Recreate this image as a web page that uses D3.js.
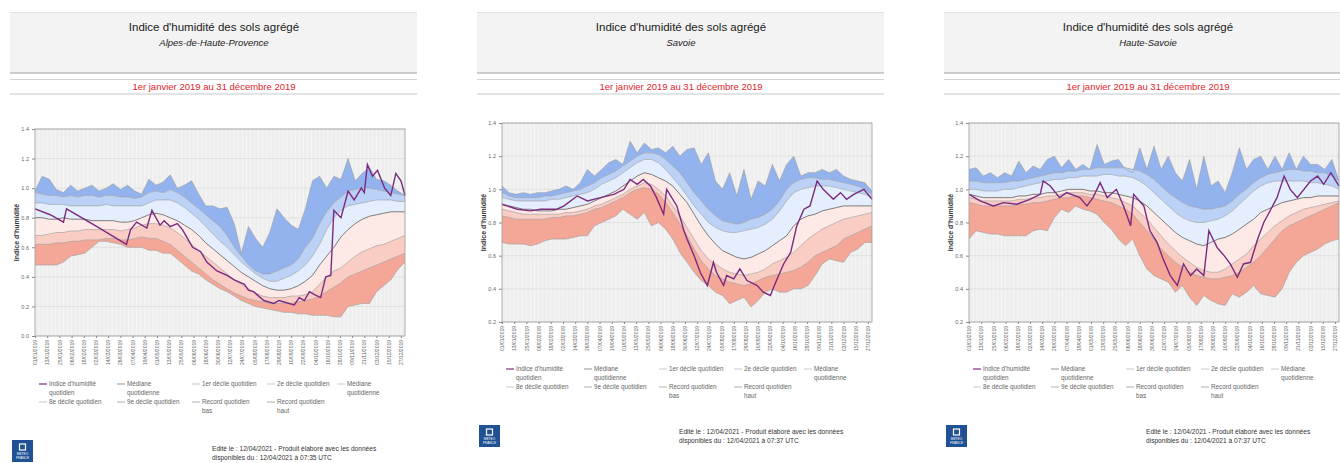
<!DOCTYPE html>
<html><head><meta charset="utf-8">
<script src="https://cdn.jsdelivr.net/npm/d3@7"></script>
<style>
body{margin:0;background:#fff}
svg{display:block}
text{font-family:"Liberation Sans",Arial,sans-serif}
</style>
</head><body>
<svg id="c" width="1340" height="463"></svg>
<script>
// ---------- shared categories ----------
const weekDays=[0,7,14,21,28,35,42,49,56,63,70,77,84,91,98,105,112,119,126,133,140,147,154,161,168,175,182,189,196,203,210,217,224,231,238,245,252,259,266,273,280,287,294,301,308,315,322,329,336,343,350,357,364];
const xTickLabels=["01/01/2019","13/01/2019","25/01/2019","06/02/2019","18/02/2019","02/03/2019","14/03/2019","26/03/2019","07/04/2019","19/04/2019","01/05/2019","13/05/2019","25/05/2019","06/06/2019","18/06/2019","30/06/2019","12/07/2019","24/07/2019","05/08/2019","17/08/2019","29/08/2019","10/09/2019","22/09/2019","04/10/2019","16/10/2019","28/10/2019","09/11/2019","21/11/2019","03/12/2019","15/12/2019","27/12/2019"];
const legendRow1=[["Indice d'humidité","quotidien"],["Médiane","quotidienne"],["1er décile quotidien"],["2e décile quotidien"],["Médiane","quotidienne"]];
const legendRow2=[["8e décile quotidien"],["9e décile quotidien"],["Record quotidien","bas"],["Record quotidien","haut"]];

// ---------- Alpes-de-Haute-Provence ----------
const ahpHigh=[0.98,1.08,1.06,0.99,0.97,1.02,0.98,1.0,1.02,0.98,1.0,1.03,0.99,1.02,0.98,0.96,1.06,1.02,1.04,1.09,1.0,1.02,1.05,0.96,0.88,0.88,0.86,0.87,0.76,0.56,0.74,0.66,0.6,0.7,0.86,0.8,0.75,0.72,0.86,1.05,1.08,1.0,1.08,1.06,1.2,1.05,1.1,1.14,1.06,1.05,1.02,0.98,0.95];
const ahpD9=[0.97,0.96,0.95,0.95,0.94,0.95,0.94,0.95,0.95,0.94,0.95,0.95,0.94,0.94,0.93,0.94,0.97,0.98,0.97,0.99,0.97,0.94,0.9,0.86,0.82,0.78,0.74,0.68,0.6,0.54,0.48,0.44,0.42,0.42,0.44,0.46,0.48,0.52,0.6,0.66,0.76,0.84,0.9,0.94,0.98,0.99,1.0,1.0,0.99,0.98,0.97,0.96,0.95];
const ahpD8=[0.9,0.9,0.89,0.89,0.89,0.88,0.88,0.88,0.88,0.88,0.89,0.88,0.88,0.88,0.88,0.88,0.9,0.92,0.92,0.92,0.9,0.87,0.83,0.79,0.74,0.69,0.64,0.6,0.55,0.5,0.46,0.42,0.39,0.37,0.37,0.39,0.41,0.44,0.48,0.54,0.62,0.72,0.8,0.85,0.88,0.89,0.9,0.91,0.92,0.92,0.92,0.91,0.91];
const ahpMed=[0.8,0.8,0.79,0.79,0.8,0.79,0.79,0.79,0.78,0.78,0.78,0.78,0.77,0.77,0.78,0.8,0.82,0.83,0.82,0.8,0.78,0.75,0.72,0.68,0.63,0.59,0.55,0.51,0.47,0.43,0.4,0.37,0.34,0.32,0.31,0.31,0.32,0.34,0.37,0.41,0.48,0.54,0.6,0.67,0.72,0.76,0.79,0.81,0.82,0.83,0.84,0.84,0.84];
const ahpD2=[0.68,0.68,0.69,0.7,0.7,0.71,0.71,0.72,0.72,0.72,0.72,0.72,0.71,0.72,0.73,0.75,0.76,0.76,0.75,0.73,0.7,0.66,0.62,0.58,0.54,0.5,0.46,0.42,0.38,0.35,0.32,0.29,0.27,0.26,0.26,0.26,0.27,0.27,0.28,0.3,0.35,0.4,0.44,0.46,0.5,0.54,0.57,0.59,0.61,0.62,0.64,0.66,0.68];
const ahpD1=[0.62,0.62,0.62,0.63,0.63,0.64,0.64,0.65,0.65,0.65,0.66,0.66,0.65,0.65,0.66,0.67,0.66,0.66,0.64,0.62,0.58,0.54,0.5,0.46,0.42,0.38,0.35,0.32,0.29,0.27,0.25,0.24,0.23,0.22,0.22,0.22,0.22,0.23,0.24,0.25,0.27,0.3,0.33,0.36,0.4,0.42,0.44,0.46,0.48,0.5,0.52,0.54,0.56];
const ahpLow=[0.48,0.48,0.48,0.48,0.5,0.54,0.55,0.56,0.6,0.64,0.64,0.63,0.62,0.6,0.6,0.6,0.58,0.58,0.56,0.56,0.52,0.48,0.44,0.42,0.38,0.35,0.32,0.3,0.27,0.24,0.22,0.2,0.19,0.18,0.17,0.16,0.16,0.15,0.15,0.14,0.14,0.14,0.13,0.13,0.2,0.21,0.22,0.22,0.3,0.34,0.38,0.45,0.5];
const ahpIdxDay=[0,15,28,31,61,90,94,100,110,115,123,127,133,140,145,150,155,163,169,179,189,196,206,210,215,225,235,240,245,255,260,265,270,275,281,286,291,294,301,308,314,321,324,327,332,337,344,350,355,360,364];
const ahpIdx=[0.86,0.82,0.77,0.86,0.74,0.62,0.72,0.77,0.73,0.85,0.75,0.78,0.74,0.76,0.72,0.66,0.6,0.57,0.5,0.44,0.41,0.38,0.35,0.31,0.3,0.24,0.22,0.24,0.23,0.21,0.26,0.24,0.3,0.28,0.26,0.4,0.41,0.85,0.8,0.98,0.92,1.0,0.97,1.16,1.08,1.12,1.0,0.95,1.1,1.05,0.95];

// ---------- Savoie ----------
const savHigh=[1.02,0.98,0.97,0.98,0.97,0.98,0.98,0.99,1.0,1.02,1.0,1.04,1.12,1.08,1.12,1.16,1.18,1.15,1.29,1.22,1.28,1.24,1.25,1.22,1.26,1.2,1.24,1.25,1.15,1.22,1.05,1.0,1.1,0.96,1.12,0.94,1.05,1.02,1.15,1.05,1.15,1.2,1.08,1.1,1.1,1.12,1.1,1.12,1.08,1.06,1.05,1.04,0.99];
const savD9=[0.98,0.96,0.95,0.95,0.95,0.95,0.96,0.96,0.97,0.98,0.99,1.0,1.02,1.04,1.07,1.09,1.11,1.14,1.17,1.2,1.22,1.22,1.21,1.18,1.14,1.1,1.04,0.98,0.93,0.88,0.84,0.81,0.8,0.79,0.8,0.82,0.83,0.85,0.88,0.93,1.0,1.04,1.06,1.07,1.07,1.06,1.06,1.05,1.04,1.03,1.02,1.0,0.97];
const savD8=[0.95,0.94,0.93,0.93,0.93,0.93,0.93,0.94,0.94,0.95,0.96,0.97,0.98,1.0,1.03,1.05,1.07,1.1,1.13,1.16,1.18,1.18,1.16,1.12,1.07,1.02,0.96,0.9,0.85,0.8,0.77,0.75,0.74,0.74,0.75,0.76,0.77,0.79,0.82,0.87,0.93,0.98,1.0,1.01,1.02,1.02,1.02,1.01,1.0,0.99,0.98,0.97,0.95];
const savMed=[0.91,0.9,0.89,0.88,0.88,0.87,0.87,0.87,0.88,0.88,0.89,0.9,0.91,0.93,0.95,0.97,0.99,1.02,1.05,1.08,1.1,1.09,1.07,1.05,1.02,0.97,0.92,0.85,0.78,0.72,0.67,0.63,0.61,0.59,0.58,0.59,0.61,0.63,0.66,0.69,0.72,0.78,0.82,0.84,0.85,0.87,0.88,0.89,0.9,0.9,0.9,0.9,0.9];
const savD2=[0.88,0.87,0.86,0.85,0.85,0.85,0.85,0.85,0.85,0.86,0.86,0.87,0.88,0.9,0.91,0.93,0.95,0.97,1.0,1.02,1.04,1.03,1.0,0.96,0.9,0.84,0.77,0.7,0.63,0.58,0.55,0.52,0.5,0.49,0.48,0.49,0.5,0.52,0.55,0.57,0.59,0.62,0.66,0.7,0.73,0.76,0.78,0.8,0.82,0.83,0.84,0.85,0.86];
const savD1=[0.84,0.83,0.82,0.82,0.82,0.82,0.82,0.83,0.83,0.84,0.84,0.85,0.86,0.88,0.89,0.91,0.93,0.95,0.98,1.0,1.01,1.0,0.97,0.92,0.86,0.79,0.72,0.64,0.57,0.52,0.48,0.46,0.44,0.43,0.42,0.43,0.45,0.47,0.48,0.49,0.5,0.51,0.53,0.56,0.6,0.62,0.64,0.66,0.7,0.72,0.74,0.76,0.78];
const savLow=[0.68,0.67,0.67,0.67,0.66,0.67,0.69,0.7,0.7,0.7,0.71,0.72,0.72,0.78,0.8,0.82,0.84,0.88,0.85,0.82,0.86,0.78,0.8,0.76,0.7,0.62,0.56,0.5,0.45,0.42,0.38,0.36,0.31,0.33,0.35,0.29,0.33,0.38,0.4,0.38,0.38,0.4,0.4,0.42,0.48,0.55,0.58,0.57,0.56,0.62,0.64,0.68,0.68];
const savIdxDay=[0,15,28,38,54,61,74,84,97,110,120,126,133,139,146,152,159,162,172,179,182,189,195,202,208,211,218,221,228,234,241,251,257,264,270,277,284,290,297,303,310,316,326,333,339,346,356,364];
const savIdx=[0.91,0.88,0.87,0.88,0.88,0.9,0.96,0.93,0.95,0.97,1.0,1.06,1.03,1.06,1.02,0.95,0.85,1.0,0.9,0.75,0.7,0.6,0.5,0.42,0.56,0.5,0.42,0.48,0.46,0.52,0.45,0.42,0.38,0.36,0.45,0.55,0.62,0.78,0.88,0.9,1.05,1.0,0.94,0.98,0.94,0.97,1.0,0.94];

// ---------- Haute-Savoie ----------
const hsHigh=[1.12,1.13,1.08,1.1,1.07,1.1,1.08,1.17,1.1,1.14,1.12,1.18,1.2,1.13,1.18,1.12,1.15,1.12,1.27,1.15,1.17,1.18,1.12,1.1,1.25,1.12,1.26,1.12,1.2,1.1,1.05,1.18,1.0,1.2,1.02,1.05,0.98,1.1,1.25,1.12,1.18,1.2,1.12,1.2,1.12,1.22,1.12,1.2,1.15,1.15,1.12,1.18,1.05];
const hsD9=[1.05,1.05,1.04,1.04,1.04,1.04,1.05,1.05,1.06,1.07,1.08,1.09,1.1,1.1,1.11,1.11,1.12,1.12,1.13,1.13,1.13,1.13,1.13,1.12,1.11,1.09,1.06,1.02,0.98,0.95,0.92,0.9,0.89,0.88,0.88,0.89,0.9,0.93,0.97,1.0,1.04,1.07,1.09,1.1,1.11,1.12,1.12,1.11,1.11,1.1,1.1,1.08,1.05];
const hsD8=[1.0,1.0,0.99,0.99,0.99,1.0,1.0,1.01,1.02,1.03,1.04,1.05,1.06,1.06,1.07,1.07,1.08,1.08,1.08,1.09,1.09,1.08,1.08,1.07,1.05,1.02,0.98,0.94,0.9,0.86,0.83,0.81,0.8,0.8,0.81,0.82,0.84,0.87,0.91,0.95,0.99,1.02,1.04,1.05,1.05,1.05,1.05,1.05,1.04,1.04,1.03,1.02,1.0];
const hsMed=[0.97,0.96,0.95,0.95,0.95,0.95,0.95,0.96,0.96,0.97,0.97,0.98,0.98,0.99,1.0,1.0,1.0,0.99,0.99,0.98,0.98,0.97,0.96,0.95,0.93,0.9,0.86,0.82,0.78,0.74,0.71,0.69,0.67,0.66,0.68,0.7,0.71,0.73,0.76,0.79,0.82,0.86,0.88,0.9,0.92,0.93,0.94,0.95,0.95,0.96,0.96,0.96,0.96];
const hsD2=[0.95,0.94,0.93,0.93,0.93,0.93,0.93,0.94,0.94,0.95,0.95,0.96,0.96,0.97,0.98,0.98,0.98,0.97,0.97,0.96,0.95,0.94,0.92,0.9,0.86,0.82,0.77,0.72,0.67,0.63,0.59,0.56,0.53,0.51,0.5,0.5,0.52,0.55,0.58,0.61,0.66,0.7,0.74,0.78,0.81,0.84,0.86,0.88,0.89,0.9,0.91,0.92,0.93];
const hsD1=[0.92,0.91,0.9,0.9,0.9,0.9,0.9,0.91,0.91,0.92,0.92,0.93,0.94,0.95,0.95,0.96,0.96,0.95,0.94,0.93,0.92,0.9,0.88,0.85,0.8,0.75,0.7,0.64,0.6,0.56,0.53,0.5,0.48,0.47,0.46,0.46,0.47,0.48,0.5,0.53,0.56,0.6,0.65,0.7,0.75,0.78,0.8,0.82,0.84,0.86,0.88,0.9,0.92];
const hsLow=[0.7,0.75,0.74,0.73,0.73,0.72,0.72,0.72,0.72,0.75,0.76,0.75,0.83,0.88,0.86,0.9,0.88,0.87,0.85,0.8,0.76,0.7,0.66,0.7,0.6,0.52,0.48,0.46,0.44,0.38,0.42,0.35,0.3,0.36,0.33,0.31,0.3,0.37,0.35,0.38,0.42,0.37,0.36,0.35,0.4,0.5,0.56,0.6,0.62,0.64,0.67,0.69,0.7];
const hsIdxDay=[0,11,24,34,47,60,70,73,80,89,96,109,116,122,129,136,145,152,159,162,172,178,185,191,198,205,211,218,224,231,236,244,251,257,264,270,277,284,290,297,303,310,316,323,336,343,349,356,364];
const hsIdx=[0.97,0.93,0.9,0.92,0.91,0.94,0.97,1.05,1.02,0.95,0.98,0.95,0.9,0.95,1.04,0.95,1.0,0.9,0.78,0.97,0.9,0.75,0.68,0.58,0.48,0.42,0.55,0.48,0.52,0.48,0.75,0.65,0.6,0.55,0.47,0.55,0.56,0.7,0.8,0.88,0.95,1.08,1.0,0.95,1.05,1.08,1.03,1.1,1.02];

// ---------- layout ----------
const panels=[
 {region:"Alpes-de-Haute-Provence",ox:0,top:129,bottom:336,ymin:0.0,high:ahpHigh,d9:ahpD9,d8:ahpD8,med:ahpMed,d2:ahpD2,d1:ahpD1,low:ahpLow,idxDay:ahpIdxDay,idx:ahpIdx,leg:386,foot:451,logo:440,time:"07:35"},
 {region:"Savoie",ox:467,top:123,bottom:322,ymin:0.2,high:savHigh,d9:savD9,d8:savD8,med:savMed,d2:savD2,d1:savD1,low:savLow,idxDay:savIdxDay,idx:savIdx,leg:371,foot:434,logo:425,time:"07:37"},
 {region:"Haute-Savoie",ox:934,top:123,bottom:322,ymin:0.2,high:hsHigh,d9:hsD9,d8:hsD8,med:hsMed,d2:hsD2,d1:hsD1,low:hsLow,idxDay:hsIdxDay,idx:hsIdx,leg:371,foot:434,logo:425,time:"07:37"}
];

const svg=d3.select("#c");
const parse=d3.utcParse("%d/%m/%Y");
const fmt=d3.utcFormat("%d/%m/%Y");
const start=Date.UTC(2019,0,1);
const dayDate=d=>d3.utcDay.offset(new Date(start),d);

const bandColors=["#93b3ef","#bcd1f6","#e4eefc","#fde9e5","#f9cdc4","#f5a797"];

panels.forEach(p=>{
  const g=svg.append("g").attr("transform",`translate(${p.ox},0)`);
  // header
  g.append("rect").attr("x",10).attr("y",12).attr("width",407).attr("height",61).attr("fill","#f3f3f3");
  g.append("line").attr("x1",10).attr("x2",417).attr("y1",12.5).attr("y2",12.5).attr("stroke","#e2e2e2");
  g.append("line").attr("x1",10).attr("x2",417).attr("y1",73).attr("y2",73).attr("stroke","#8a8a8a").attr("stroke-width",0.8);
  g.append("line").attr("x1",10).attr("x2",417).attr("y1",79.5).attr("y2",79.5).attr("stroke","#d4d4d4");
  g.append("line").attr("x1",10).attr("x2",417).attr("y1",94).attr("y2",94).attr("stroke","#c8c8c8");
  g.append("text").attr("x",214).attr("y",31).attr("text-anchor","middle").attr("font-size",11.5).attr("fill","#222").text("Indice d'humidité des sols agrégé");
  g.append("text").attr("x",214).attr("y",46).attr("text-anchor","middle").attr("font-size",9.5).attr("font-style","italic").attr("fill","#222").text(p.region);
  g.append("text").attr("x",214).attr("y",90).attr("text-anchor","middle").attr("font-size",9.5).attr("fill","#e0262b").text("1er janvier 2019 au 31 décembre 2019");

  const x=d3.scaleUtc().domain([dayDate(0),dayDate(364)]).range([35,405]);
  const y=d3.scaleLinear().domain([p.ymin,1.4]).range([p.bottom,p.top]);

  // plot background and grid
  g.append("rect").attr("x",35).attr("y",p.top).attr("width",370).attr("height",p.bottom-p.top).attr("fill","#eeeeee");
  g.append("g").selectAll("line").data(d3.range(0,365,4)).join("line")
    .attr("x1",d=>x(dayDate(d))).attr("x2",d=>x(dayDate(d))).attr("y1",p.top).attr("y2",p.bottom)
    .attr("stroke","#f9f9f9").attr("stroke-width",0.7);
  const yTicks=d3.range(Math.round(p.ymin*10),15,2).map(v=>v/10);
  g.append("g").selectAll("line").data(yTicks).join("line")
    .attr("x1",35).attr("x2",405).attr("y1",d=>y(d)).attr("y2",d=>y(d))
    .attr("stroke","#d6d6d6").attr("stroke-width",0.6);

  // bands
  const series=[p.high,p.d9,p.d8,p.med,p.d2,p.d1,p.low];
  for(let i=0;i<6;i++){
    const up=series[i], lo=series[i+1];
    const area=d3.area().x((d,j)=>x(dayDate(weekDays[j]))).y0((d,j)=>y(lo[j])).y1((d,j)=>y(up[j]));
    g.append("path").datum(up).attr("d",area).attr("fill",bandColors[i]);
  }
  const line=d3.line().x((d,j)=>x(dayDate(weekDays[j]))).y(d=>y(d));
  series.forEach((s,i)=>{
    g.append("path").datum(s).attr("d",line).attr("fill","none")
      .attr("stroke",i===3?"#6f6f6f":"#9a9a9a").attr("stroke-width",i===3?0.9:0.6);
  });
  // index line
  const iline=d3.line().x((d,j)=>x(dayDate(p.idxDay[j]))).y(d=>y(d));
  g.append("path").datum(p.idx).attr("d",iline).attr("fill","none").attr("stroke","#7a2b80").attr("stroke-width",1.4);

  // frame
  g.append("rect").attr("x",35).attr("y",p.top).attr("width",370).attr("height",p.bottom-p.top).attr("fill","none").attr("stroke","#9c9c9c").attr("stroke-width",0.8);

  // axes
  const ya=g.append("g").attr("transform","translate(35,0)").call(d3.axisLeft(y).tickValues(yTicks).tickFormat(d3.format(".1f")).tickSize(3));
  ya.select(".domain").remove();
  ya.selectAll("line").attr("stroke","#888");
  ya.selectAll("text").attr("font-size",5.5).attr("fill","#666").attr("font-family","Liberation Sans, Arial");
  const xa=g.append("g").attr("transform",`translate(0,${p.bottom})`).call(d3.axisBottom(x).tickValues(xTickLabels.map(parse)).tickFormat(fmt).tickSize(2));
  xa.select(".domain").remove();
  xa.selectAll("line").attr("stroke","#888");
  xa.selectAll("text").attr("font-size",5).attr("fill","#666").attr("font-family","Liberation Sans, Arial")
    .attr("transform","rotate(-90)").attr("text-anchor","end").attr("x",-4).attr("y",0).attr("dy","0.32em");

  g.append("text").attr("transform",`translate(19,${(p.top+p.bottom)/2}) rotate(-90)`).attr("text-anchor","middle")
    .attr("font-size",7).attr("font-weight","bold").attr("fill","#333").text("Indice d'humidité");

  // legend
  const colX=[39,117,192,267,337];
  const legColors1=["#8b3d8f","#777","#bbb","#bbb","#bbb"];
  legendRow1.forEach((t,i)=>{
    g.append("line").attr("x1",colX[i]).attr("x2",colX[i]+8).attr("y1",p.leg-2).attr("y2",p.leg-2).attr("stroke",legColors1[i]).attr("stroke-width",i===0?1.3:0.8);
    t.forEach((s,k)=>g.append("text").attr("x",colX[i]+10).attr("y",p.leg+k*8.5).attr("font-size",6.3).attr("fill","#666").text(s));
  });
  legendRow2.forEach((t,i)=>{
    g.append("line").attr("x1",colX[i]).attr("x2",colX[i]+8).attr("y1",p.leg+16).attr("y2",p.leg+16).attr("stroke",i===0?"#bbb":"#999").attr("stroke-width",0.8);
    t.forEach((s,k)=>g.append("text").attr("x",colX[i]+10).attr("y",p.leg+18+k*8.5).attr("font-size",6.3).attr("fill","#666").text(s));
  });

  // logo
  g.append("rect").attr("x",12).attr("y",p.logo).attr("width",21).attr("height",22).attr("fill","#1f5194");
  g.append("rect").attr("x",19.5).attr("y",p.logo+4).attr("width",6).attr("height",6).attr("fill","none").attr("stroke","#fff").attr("stroke-width",1.2);
  g.append("text").attr("x",22.5).attr("y",p.logo+15).attr("text-anchor","middle").attr("font-size",3.2).attr("fill","#fff").text("METEO");
  g.append("text").attr("x",22.5).attr("y",p.logo+19).attr("text-anchor","middle").attr("font-size",3.2).attr("fill","#fff").text("FRANCE");

  // footer
  g.append("text").attr("x",212).attr("y",p.foot).attr("font-size",6.6).attr("fill","#333").text("Edité le : 12/04/2021 - Produit élaboré avec les données");
  g.append("text").attr("x",212).attr("y",p.foot+8.5).attr("font-size",6.6).attr("fill","#333").text(`disponibles du : 12/04/2021 à ${p.time} UTC`);
});
</script>
</body></html>
